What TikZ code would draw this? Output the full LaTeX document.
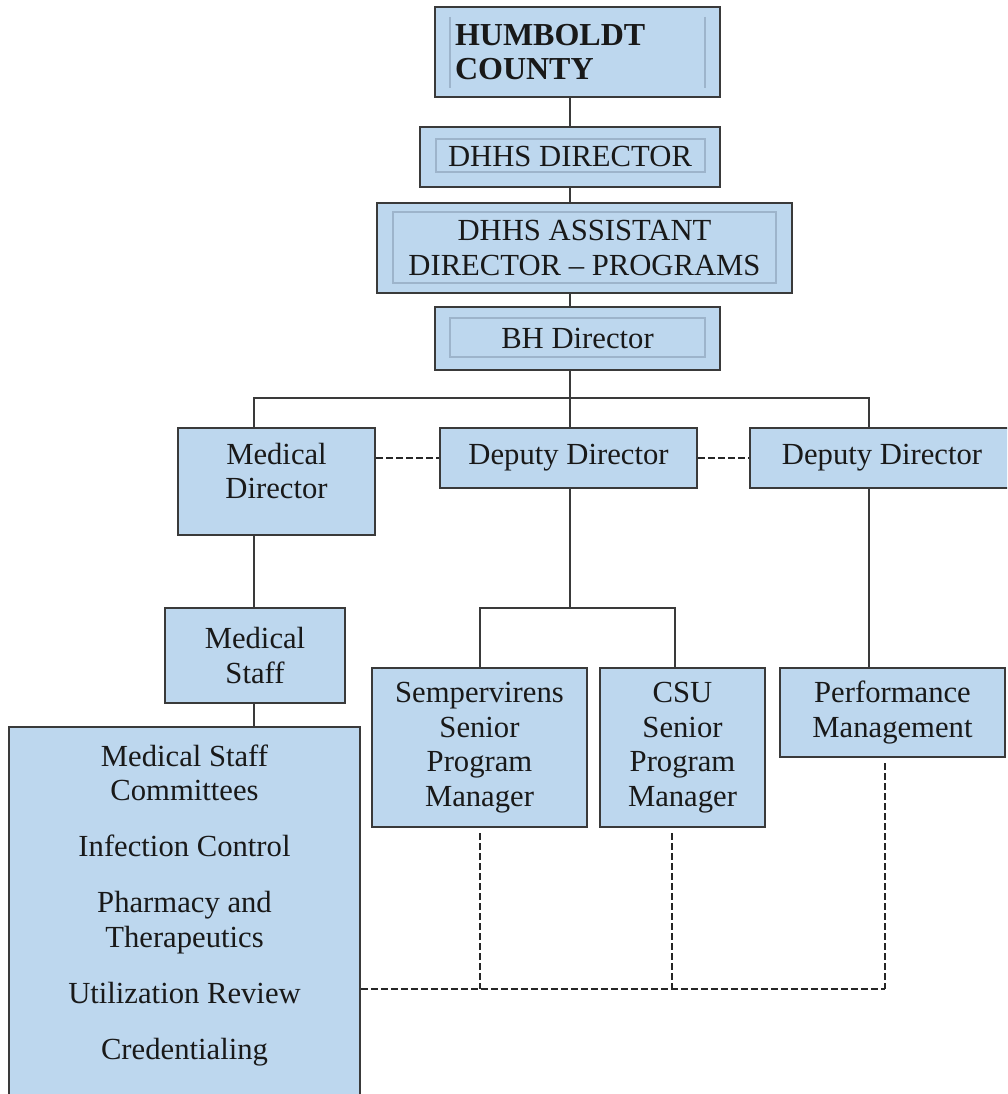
\documentclass[tikz,border=0pt]{standalone}
\usepackage{fontspec}
\setmainfont{Liberation Serif}
\definecolor{boxfill}{HTML}{BDD7EE}
\definecolor{linec}{HTML}{3A3A3A}
\definecolor{innerc}{HTML}{9DB4CB}
\begin{document}
\begin{tikzpicture}[x=0.75pt,y=-0.75pt,
  box/.style={draw=linec, line width=1.5pt, fill=boxfill, inner sep=0pt, align=center, text=black!90, font=\fontsize{23}{26}\selectfont},
  sz/.style 2 args={minimum width=#1*0.75pt, minimum height=#2*0.75pt},
  conn/.style={draw=linec, line width=1.5pt},
  dashconn/.style={draw=black!85, line width=1.3pt, dash pattern=on 5pt off 2.5pt},
  innerb/.style={draw=innerc, line width=0.8pt}]
\clip (0,0) rectangle (1007,1094);
\fill[white] (0,0) rectangle (1007,1094);
% boxes
\node[box, sz={285}{90}, text width=183.75pt, align=left, font=\bfseries\fontsize{24}{26}\selectfont] (hc) at (577.5,52) {HUMBOLDT\\COUNTY};
\node[box, sz={300}{60}] (dd) at (570,157) {DHHS DIRECTOR};
\node[box, sz={415}{90}] (ad) at (584.5,248) {DHHS ASSISTANT\\DIRECTOR – PROGRAMS};
\node[box, sz={285}{63}] (bh) at (577.5,338.5) {BH Director};
\node[box, sz={197}{107}, text depth=16pt] (md) at (276.5,481.5) {Medical\\Director};
\node[box, sz={257}{60}] (dep1) at (568.5,458) {Deputy Director};
\node[box, sz={264}{60}] (dep2) at (882,458) {Deputy Director};
\node[box, sz={180}{95}] (ms) at (255,655.5) {Medical\\Staff};
\node[box, sz={215}{159}] (sp) at (479.5,747.5) {Sempervirens\\Senior\\Program\\Manager};
\node[box, sz={165}{159}] (csu) at (682.5,747.5) {CSU\\Senior\\Program\\Manager};
\node[box, sz={225}{89}] (pm) at (892.5,712.5) {Performance\\Management};
\node[box, sz={351}{393}, text depth=32pt] (msc) at (184.5,923.5) {Medical Staff\\Committees\\[16pt]Infection Control\\[16pt]Pharmacy and\\Therapeutics\\[16pt]Utilization Review\\[16pt]Credentialing};
% inner borders
\draw[innerb] (450,17) -- (450,88) (705,17) -- (705,88);
\draw[innerb] (436,139) rectangle (705,172);
\draw[innerb] (393,212) rectangle (776,283);
\draw[innerb] (450,318) rectangle (705,357);
% connectors
\coordinate (busL) at (254,398);
\coordinate (busM) at (570,398);
\coordinate (busR) at (869,398);
\coordinate (subL) at (480,608);
\coordinate (subM) at (570,608);
\coordinate (subR) at (675,608);
\coordinate (dl) at (480,989);
\coordinate (dm) at (672,989);
\coordinate (dr) at (885,989);
\draw[conn] (busM |- hc.south) -- (busM |- dd.north);
\draw[conn] (busM |- dd.south) -- (busM |- ad.north);
\draw[conn] (busM |- ad.south) -- (busM |- bh.north);
\draw[conn] (busM |- bh.south) -- (busM);
\draw[conn] (busL |- md.north) -- (busL) -- (busR) -- (busR |- dep2.north);
\draw[conn] (busM) -- (busM |- dep1.north);
\draw[dashconn] (md.east |- dep1.west) -- (dep1.west);
\draw[dashconn] (dep1.east) -- (dep2.west);
\draw[conn] (busL |- md.south) -- (busL |- ms.north);
\draw[conn] (busL |- ms.south) -- (busL |- msc.north);
\draw[conn] (busM |- dep1.south) -- (subM);
\draw[conn] (subL |- sp.north) -- (subL) -- (subR) -- (subR |- csu.north);
\draw[conn] (busR |- dep2.south) -- (busR |- pm.north);
\draw[dashconn] (msc.east |- dl) -- (dr);
\draw[dashconn] ([yshift=-4pt]sp.south -| dl) -- (dl);
\draw[dashconn] ([yshift=-4pt]csu.south -| dm) -- (dm);
\draw[dashconn] ([yshift=-4pt]pm.south -| dr) -- (dr);
\end{tikzpicture}
\end{document}
